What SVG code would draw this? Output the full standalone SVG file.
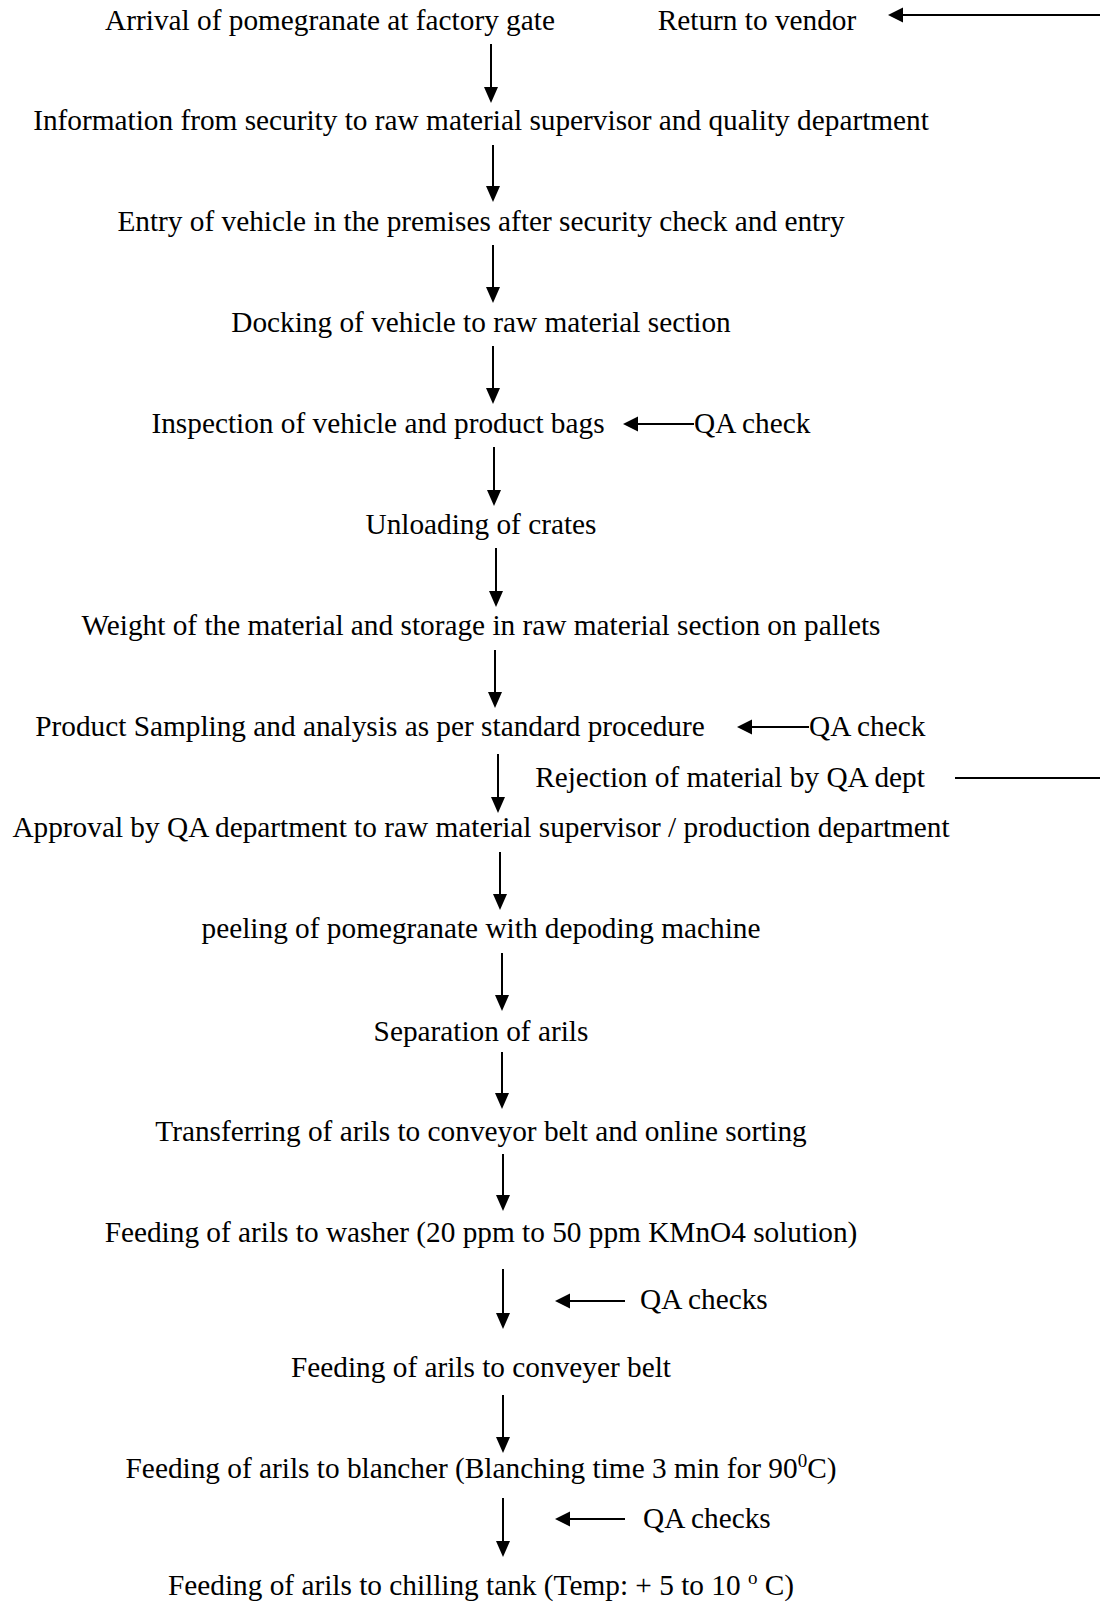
<svg xmlns="http://www.w3.org/2000/svg" width="1100" height="1602" viewBox="0 0 1100 1602">
<defs>
<path id="hd" d="M-7,-16 L7,-16 L0,0 Z" fill="#000"/>
<path id="hl" d="M0,0 L15,-7.5 L15,7.5 Z" fill="#000"/>
<style>
text{font-family:"Liberation Serif","Times New Roman",serif;font-size:29.3px;fill:#000}
.c{text-anchor:middle}
.e{stroke:#000;stroke-width:2;fill:none}
</style>
</defs>
<rect width="1100" height="1602" fill="#fff"/>
<g id="connectors">
<line class="e" x1="491" y1="44" x2="491" y2="90"/><use href="#hd" x="491" y="103"/>
<line class="e" x1="493" y1="145" x2="493" y2="190"/><use href="#hd" x="493" y="202"/>
<line class="e" x1="493" y1="245" x2="493" y2="290"/><use href="#hd" x="493" y="303"/>
<line class="e" x1="493" y1="346" x2="493" y2="391"/><use href="#hd" x="493" y="404"/>
<line class="e" x1="494" y1="447" x2="494" y2="493"/><use href="#hd" x="494" y="506"/>
<line class="e" x1="496" y1="548" x2="496" y2="594"/><use href="#hd" x="496" y="607"/>
<line class="e" x1="495" y1="650" x2="495" y2="695"/><use href="#hd" x="495" y="708"/>
<line class="e" x1="498" y1="754" x2="498" y2="800"/><use href="#hd" x="498" y="813"/>
<line class="e" x1="500" y1="852" x2="500" y2="897"/><use href="#hd" x="500" y="910"/>
<line class="e" x1="502" y1="953" x2="502" y2="998"/><use href="#hd" x="502" y="1011"/>
<line class="e" x1="502" y1="1052" x2="502" y2="1096"/><use href="#hd" x="502" y="1109"/>
<line class="e" x1="503" y1="1154" x2="503" y2="1198"/><use href="#hd" x="503" y="1211"/>
<line class="e" x1="503" y1="1269" x2="503" y2="1316"/><use href="#hd" x="503" y="1329"/>
<line class="e" x1="503" y1="1395" x2="503" y2="1440"/><use href="#hd" x="503" y="1453"/>
<line class="e" x1="503" y1="1498" x2="503" y2="1544"/><use href="#hd" x="503" y="1557"/>
<line class="e" x1="1100" y1="15" x2="900" y2="15" stroke-width="2.5"/><use href="#hl" x="888" y="15"/>
<line class="e" x1="694" y1="424" x2="635" y2="424"/><use href="#hl" x="623" y="424"/>
<line class="e" x1="809" y1="727" x2="749" y2="727"/><use href="#hl" x="737" y="727"/>
<line class="e" x1="955" y1="778" x2="1100" y2="778"/>
<line class="e" x1="625" y1="1301" x2="567" y2="1301"/><use href="#hl" x="555" y="1301"/>
<line class="e" x1="625" y1="1519" x2="567" y2="1519"/><use href="#hl" x="555" y="1519"/>
</g>
<g id="n1"><text class="c" x="330" y="30">Arrival of pomegranate at factory gate</text></g>
<g id="n1b"><text class="c" x="757" y="30">Return to vendor</text></g>
<g id="n2"><text class="c" x="481" y="130">Information from security to raw material supervisor and quality department</text></g>
<g id="n3"><text class="c" x="481" y="231">Entry of vehicle in the premises after security check and entry</text></g>
<g id="n4"><text class="c" x="481" y="332">Docking of vehicle to raw material section</text></g>
<g id="n5"><text class="c" x="378" y="433">Inspection of vehicle and product bags</text></g>
<g id="qa1"><text x="694" y="433">QA check</text></g>
<g id="n6"><text class="c" x="481" y="534">Unloading of crates</text></g>
<g id="n7"><text class="c" x="481" y="635">Weight of the material and storage in raw material section on pallets</text></g>
<g id="n8"><text class="c" x="370" y="736">Product Sampling and analysis as per standard procedure</text></g>
<g id="qa2"><text x="809" y="736">QA check</text></g>
<g id="rej"><text class="c" x="730" y="787">Rejection of material by QA dept</text></g>
<g id="n9"><text class="c" x="481" y="837">Approval by QA department to raw material supervisor / production department</text></g>
<g id="n10"><text class="c" x="481" y="938">peeling of pomegranate with depoding machine</text></g>
<g id="n11"><text class="c" x="481" y="1041">Separation of arils</text></g>
<g id="n12"><text class="c" x="481" y="1141">Transferring of arils to conveyor belt and online sorting</text></g>
<g id="n13"><text class="c" x="481" y="1242">Feeding of arils to washer (20 ppm to 50 ppm KMnO4 solution)</text></g>
<g id="qa3"><text x="640" y="1309">QA checks</text></g>
<g id="n14"><text class="c" x="481" y="1377">Feeding of arils to conveyer belt</text></g>
<g id="n15"><text class="c" x="481" y="1478">Feeding of arils to blancher (Blanching time 3 min for 90<tspan font-size="19" dy="-11">0</tspan><tspan dy="11">C)</tspan></text></g>
<g id="qa4"><text x="643" y="1528">QA checks</text></g>
<g id="n16"><text class="c" x="481" y="1595">Feeding of arils to chilling tank (Temp: + 5 to 10 <tspan font-size="19" dy="-11">o</tspan><tspan dy="11"> C)</tspan></text></g>
</svg>
